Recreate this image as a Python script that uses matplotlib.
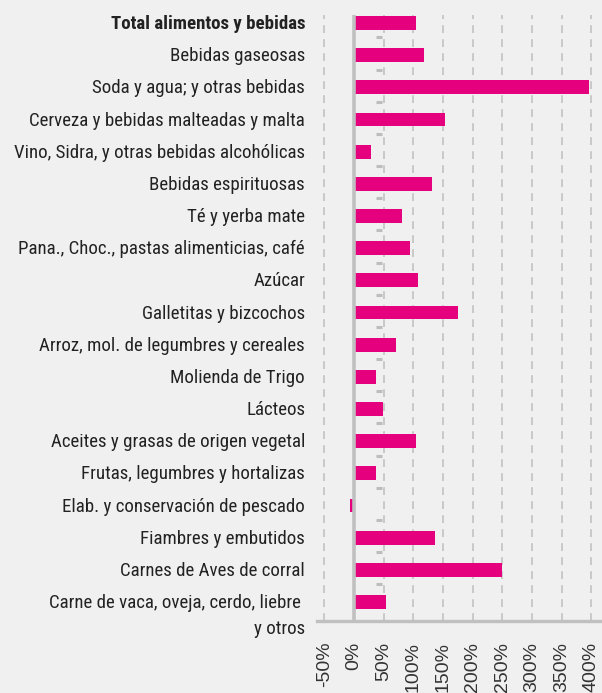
import matplotlib
matplotlib.use("Agg")
import matplotlib.pyplot as plt
from matplotlib import font_manager as fm
import matplotlib.transforms as mtransforms

categories = [
    "Total alimentos y bebidas",
    "Bebidas gaseosas",
    "Soda y agua; y otras bebidas",
    "Cerveza y bebidas malteadas y malta",
    "Vino, Sidra, y otras bebidas alcohólicas",
    "Bebidas espirituosas",
    "Té y yerba mate",
    "Pana., Choc., pastas alimenticias, café",
    "Azúcar",
    "Galletitas y bizcochos",
    "Arroz, mol. de legumbres y cereales",
    "Molienda de Trigo",
    "Lácteos",
    "Aceites y grasas de origen vegetal",
    "Frutas, legumbres y hortalizas",
    "Elab. y conservación de pescado",
    "Fiambres y embutidos",
    "Carnes de Aves de corral",
    "Carne de vaca, oveja, cerdo, liebre \ny otros",
]
values = [104.5, 118, 396, 153, 29, 131, 81, 94, 108, 175, 71, 37, 49, 104.5, 37, -7, 136.5, 249.5, 54]
xticks = [-50, 0, 50, 100, 150, 200, 250, 300, 350, 400]
xtick_labels = [f"{t}%" for t in xticks]

names = {f.name for f in fm.fontManager.ttflist}
label_family = next((f for f in ["Roboto Condensed", "Archivo Narrow", "PT Sans Narrow"] if f in names), "DejaVu Sans")
tick_font = "Liberation Sans" if "Liberation Sans" in names else "DejaVu Sans"

bg = "#f0f0f0"
fig = plt.figure(figsize=(6.02, 6.93), dpi=100, facecolor=bg)
ax = fig.add_axes([0.5266, 0.1039, 0.4734, 0.8745], facecolor=bg)

y = list(range(len(categories)))
ax.barh(y, values, height=0.43, color="#e5007e", zorder=3)

ax.set_xlim(-62.4, 418)
ax.set_ylim(18.59, -0.25)

for t in xticks:
    if t == 0:
        ax.axvline(0, color="#c0c0c0", lw=2.6, zorder=4)
    else:
        ax.axvline(t, color="#c8c8c8", lw=1.4, ls=(0, (4, 3.2)), zorder=1)

# small gray category marks between bars
ax.scatter([42] * (len(categories) - 1), [i + 0.45 for i in range(len(categories) - 1)],
           marker="_", s=14, color="#bdbdbd", linewidths=2.2, zorder=2)

for s in ["top", "right", "left"]:
    ax.spines[s].set_visible(False)
ax.spines["bottom"].set_color("#c0c0c0")
ax.spines["bottom"].set_linewidth(2.4)

ax.set_xticks(xticks)
ax.set_xticklabels(xtick_labels, rotation=90, fontsize=14, family=tick_font, color="#333333")
ax.tick_params(axis="x", length=0, pad=15)

ax.set_yticks(y)
ax.set_yticklabels(categories, fontsize=13.6, color="#222222", family=label_family)
ax.tick_params(axis="y", length=0, pad=8.6)

labels = ax.get_yticklabels()
labels[0].set_fontweight("bold")
for lab in labels:
    lab.set_transform(lab.get_transform() + mtransforms.ScaledTranslation(0, 0.01, fig.dpi_scale_trans))
last = labels[-1]
last.set_verticalalignment("top")
last.set_linespacing(1.55)
last.set_transform(last.get_transform() + mtransforms.ScaledTranslation(0, 0.07, fig.dpi_scale_trans))

fig.savefig("out.png", dpi=100, facecolor=bg)
